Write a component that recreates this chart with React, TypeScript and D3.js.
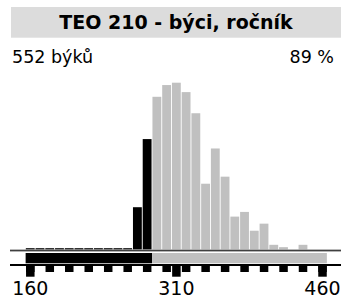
import React from "react";
import * as d3 from "d3";

// histogram bins (centre of each 10-unit bin) and counts
const bins = [160, 170, 180, 190, 200, 210, 220, 230, 240, 250, 260, 270, 280, 290, 300, 310, 320, 330, 340, 350, 360, 370, 380, 390, 400, 410, 420, 430, 440, 450, 460];
const counts = [0, 0, 0, 0, 0, 0, 0, 0, 0, 0, 0, 18, 47, 65, 70, 71, 67, 58, 28, 43, 31, 14, 16, 8, 11, 2, 1, 0, 2, 0, 0];
const splitAt = 285; // below = black, above = grey
const tickValues = [160, 180, 200, 220, 240, 260, 280, 300, 320, 340, 360, 380, 400, 420, 440, 460];
const bigTicks = [160, 310, 460];
const title = "TEO 210 - býci, ročník";
const countLabel = "552 býků";
const percentLabel = "89 %";

const W = 341;
const H = 302;
const font = "'DejaVu Sans', Verdana, sans-serif";

export default function App() {
  const x = d3.scaleLinear().domain([160, 460]).range([30.3, 322.5]);
  const base = 249.5;
  const y = d3.scaleLinear().domain([0, d3.max(counts) as number]).range([base, 82.7]);
  const binW = x(170) - x(160);
  const tickW = 8.5;

  return (
    <svg width={W} height={H} style={{ position: "absolute", left: 0, top: 0 }} fontFamily={font}>
      <rect x={11} y={7} width={W - 11} height={30.7} fill="#dcdcdc" />
      <text x={176} y={28.5} textAnchor="middle" fontSize={19} fontWeight="bold" fill="#000">
        {title}
      </text>
      <text x={12} y={62.5} fontSize={17.5} fill="#000">{countLabel}</text>
      <text x={334} y={62.5} fontSize={17.5} textAnchor="end" fill="#000">{percentLabel}</text>

      {bins.map((b, i) => {
        const black = b < splitAt;
        if (!black && counts[i] === 0) return null;
        const top = black ? Math.min(y(counts[i]), base - 1.3) : y(counts[i]);
        return (
          <rect
            key={b}
            x={x(b) - binW / 2 + 0.4}
            y={top}
            width={binW - 0.9}
            height={base - top}
            fill={black ? "#000" : "#c0c0c0"}
          />
        );
      })}

      <rect x={10} y={249.5} width={W - 10} height={0.8} fill="#777" />
      <rect x={10} y={250.3} width={W - 10} height={1} fill="#000" />

      <rect x={x(155) + 0.2} y={253} width={x(splitAt) - x(155) - 0.2} height={10.3} fill="#000" />
      <rect x={x(splitAt)} y={253} width={x(465) - x(splitAt) - 0.5} height={10.3} fill="#c0c0c0" />

      <rect x={10} y={264} width={W - 10} height={2} fill="#000" />

      {tickValues.map((t) => (
        <rect key={t} x={x(t) - tickW / 2} y={266} width={tickW} height={6} fill="#000" />
      ))}
      {bigTicks.map((t) => (
        <g key={"b" + t}>
          <rect x={x(t) - tickW / 2} y={266} width={tickW} height={10.7} fill="#000" />
          <text x={x(t)} y={294.5} textAnchor="middle" fontSize={19} fill="#000">{t}</text>
        </g>
      ))}
    </svg>
  );
}
